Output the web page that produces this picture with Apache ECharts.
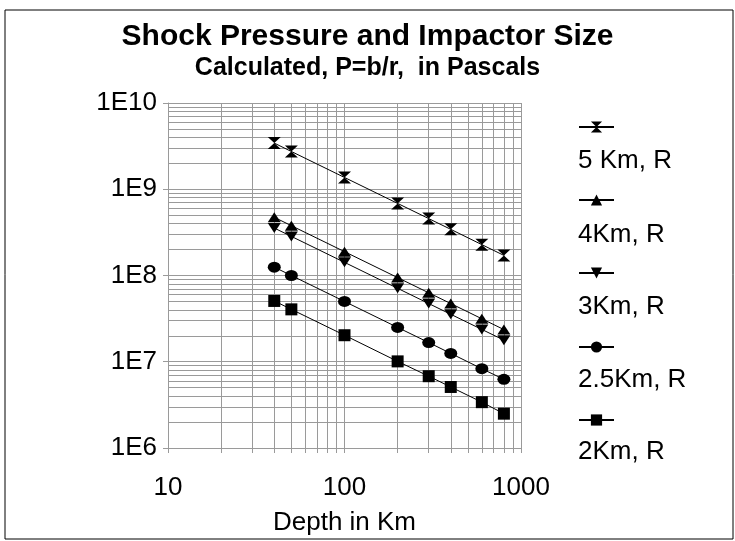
<!DOCTYPE html>
<html>
<head>
<meta charset="utf-8">
<script src="https://cdn.jsdelivr.net/npm/echarts@6/dist/echarts.min.js"></script>
<style>html,body{margin:0;padding:0;background:#fff;}#c{width:735px;height:541px;}</style>
</head>
<body>
<div id="c"></div>
<script>
// ---- data ----
const depthKm = [40, 50, 100, 200, 300, 400, 600, 800];
const p5Km  = [3.43e9, 2.74e9, 1.37e9, 6.85e8, 4.57e8, 3.43e8, 2.28e8, 1.71e8];
const p4Km  = [4.73e8, 3.78e8, 1.89e8, 9.45e7, 6.3e7, 4.73e7, 3.15e7, 2.36e7];
const p3Km  = [3.55e8, 2.84e8, 1.42e8, 7.1e7, 4.73e7, 3.55e7, 2.37e7, 1.78e7];
const p25Km = [1.25e8, 1.0e8, 5.0e7, 2.5e7, 1.67e7, 1.25e7, 8.3e6, 6.25e6];
const p2Km  = [5.07e7, 4.05e7, 2.03e7, 1.01e7, 6.8e6, 5.1e6, 3.4e6, 2.5e6];
const seriesNames = ['5 Km, R', '4Km, R', '3Km, R', '2.5Km, R', '2Km, R'];
const xTickValues = [10, 100, 1000];
const xTickLabels = ['10', '100', '1000'];
const yTickValues = [1e6, 1e7, 1e8, 1e9, 1e10];
const yTickLabels = ['1E6', '1E7', '1E8', '1E9', '1E10'];
const titleText = 'Shock Pressure and Impactor Size';
const subtitleText = 'Calculated, P=b/r,  in Pascals';
const xAxisName = 'Depth in Km';

// ---- styling ----
const FONT = '"Liberation Sans", Arial, sans-serif';
const GRID = '#9a9a9a';
const hourglass = 'path://M0,0 L10,0 L5,5 Z M5,5 L10,10 L0,10 Z';
const seriesValues = [p5Km, p4Km, p3Km, p25Km, p2Km];
const symbols = [hourglass, 'triangle', 'triangle', 'circle', 'rect'];
const symbolSizes = [[13, 12], [13, 10], [13, 10], [13, 11], [12, 12]];
const symbolRotates = [0, 0, 180, 0, 0];
const legendIconY = [127, 200, 273, 347, 420];
const legendTextY = [161, 235, 307, 380, 452];

const pairs = (vals) => depthKm.map((d, i) => [d, vals[i]]);
const lookup = (vals, labels) => (v) => {
  let best = 0;
  vals.forEach((t, i) => { if (Math.abs(Math.log10(t) - Math.log10(v)) < Math.abs(Math.log10(vals[best]) - Math.log10(v))) best = i; });
  return labels[best];
};

const series = seriesNames.map((name, k) => ({
  name: name,
  type: 'line',
  data: pairs(seriesValues[k]),
  symbol: symbols[k],
  symbolSize: symbolSizes[k],
  symbolRotate: symbolRotates[k],
  showSymbol: true,
  lineStyle: { color: '#000', width: 1 },
  itemStyle: { color: '#000' },
  emphasis: { disabled: true },
  z: 3
}));

const legends = seriesNames.map((name, k) => ({
  data: [name],
  left: 578,
  top: legendIconY[k] - 7,
  itemWidth: 35,
  itemHeight: 14,
  padding: 0,
  selectedMode: false,
  formatter: () => '',
  textStyle: { fontSize: 1 }
}));

const graphics = seriesNames.map((name, k) => ({
  type: 'text',
  left: 578,
  top: legendTextY[k] - 13,
  style: { text: name, font: '26px ' + FONT, fill: '#000' }
}));
graphics.push({
  type: 'rect',
  shape: { x: 5, y: 10, width: 728, height: 529 },
  style: { fill: 'none', stroke: '#000', lineWidth: 1 },
  silent: true,
  z: -1
});

const chart = echarts.init(document.getElementById('c'), null, { renderer: 'canvas' });
chart.setOption({
  animation: false,
  backgroundColor: '#fff',
  title: [
    { text: titleText, left: 'center', top: 22, padding: 0,
      textStyle: { fontFamily: FONT, fontSize: 30, fontWeight: 'bold', color: '#000' } },
    { text: subtitleText, left: 'center', top: 56, padding: 0,
      textStyle: { fontFamily: FONT, fontSize: 25, fontWeight: 'bold', color: '#000' } }
  ],
  legend: legends,
  grid: { left: 168, top: 103, right: 214, bottom: 85, containLabel: false },
  xAxis: {
    type: 'log', logBase: 10, min: 10, max: 1000,
    name: xAxisName, nameLocation: 'middle', nameGap: 62,
    nameTextStyle: { fontFamily: FONT, fontSize: 26, color: '#000' },
    axisLine: { show: true, lineStyle: { color: GRID, width: 1 } },
    axisTick: { show: true, length: 5, lineStyle: { color: GRID } },
    minorTick: { show: true, splitNumber: 9, length: 5, lineStyle: { color: GRID } },
    splitLine: { show: true, lineStyle: { color: GRID, width: 1 } },
    minorSplitLine: { show: true, lineStyle: { color: GRID, width: 1 } },
    axisLabel: { margin: 27, fontFamily: FONT, fontSize: 26, color: '#000',
      showMinLabel: true, showMaxLabel: true,
      formatter: lookup(xTickValues, xTickLabels) }
  },
  yAxis: {
    type: 'log', logBase: 10, min: 1e6, max: 1e10,
    axisLine: { show: true, lineStyle: { color: GRID, width: 1 } },
    axisTick: { show: true, length: 5, lineStyle: { color: GRID } },
    minorTick: { show: false, splitNumber: 9 },
    splitLine: { show: true, lineStyle: { color: GRID, width: 1 } },
    minorSplitLine: { show: true, lineStyle: { color: GRID, width: 1 } },
    axisLabel: { margin: 11, fontFamily: FONT, fontSize: 26, color: '#000',
      showMinLabel: true, showMaxLabel: true,
      formatter: lookup(yTickValues, yTickLabels) }
  },
  graphic: graphics,
  series: series
});
</script>
</body>
</html>
